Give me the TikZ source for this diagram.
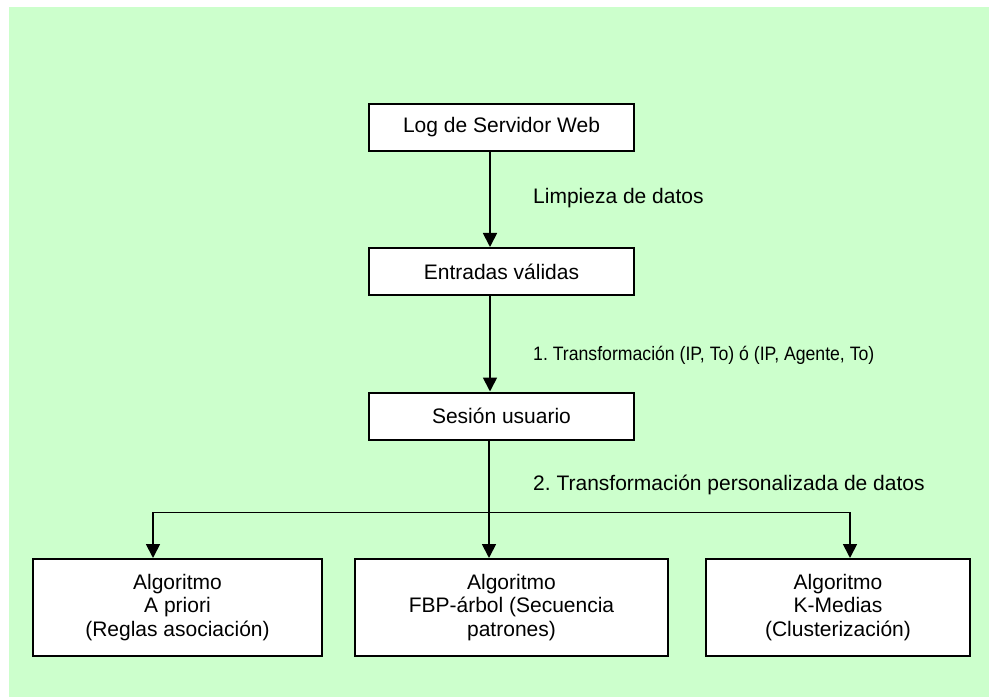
\documentclass[tikz,border=0pt]{standalone}
\usepackage{graphicx}
\usepackage{fontspec}
\setmainfont{Liberation Sans}
\usetikzlibrary{arrows.meta}
\definecolor{bggreen}{HTML}{CCFFCC}
\frenchspacing
\tikzset{
  box/.style={draw=black, fill=white, line width=2pt, inner sep=0pt, align=center,
    font=\fontsize{21}{23.5}\selectfont},
  topbox/.style={box, minimum width=265pt, minimum height=47pt},
  algbox/.style={box, minimum height=97pt},
  arr/.style={line width=1.8pt, -{Triangle[width=14pt,length=14pt]}},
  lbl/.style={anchor=west, inner sep=0pt, font=\fontsize{21}{23.5}\selectfont}
}
\begin{document}
\begin{tikzpicture}[x=1pt,y=-1pt]
\useasboundingbox (0,0) rectangle (989,698);
\fill[bggreen] (9,7) rectangle (989,697);

\node[topbox] (log) at (501.5,127.5) {Log de Servidor Web};
\node[topbox] (ent) at (501.5,271.5) {Entradas válidas};
\node[topbox] (ses) at (501.5,416) {Sesión usuario};

\node[algbox, minimum width=289pt] (b1) at (177.5,607.5) {Algoritmo\\A priori\\(Reglas asociación)};
\node[algbox, minimum width=313pt] (b2) at (511.5,607.5) {Algoritmo\\FBP-árbol (Secuencia\\patrones)};
\node[algbox, minimum width=264pt] (b3) at (838,607.5) {Algoritmo\\K-Medias\\(Clusterización)};

\draw[arr] ([xshift=-11.5pt]log.south) -- ([xshift=-11.5pt]ent.north);
\draw[arr] ([xshift=-11.5pt]ent.south) -- ([xshift=-11.5pt]ses.north);
\draw[arr] ([xshift=-12.5pt]ses.south) -- ([xshift=-22.5pt]b2.north);
\coordinate (j) at ([xshift=-12.5pt,yshift=-72pt]ses.south);
\draw[arr] (j) -| ([xshift=-24.5pt]b1.north);
\draw[arr] (j) -| ([xshift=12pt]b3.north);

\node[lbl] (l1) at (533,198) {Limpieza de datos};
\node[lbl, font=\fontsize{19.4}{22}\selectfont] (l2) at (533,355) {\scalebox{0.91}[1]{1. Transformación (IP, To) ó (IP, Agente, To)}};
\node[lbl] (l3) at (533,485) {2. Transformación personalizada de datos};
\end{tikzpicture}
\end{document}
